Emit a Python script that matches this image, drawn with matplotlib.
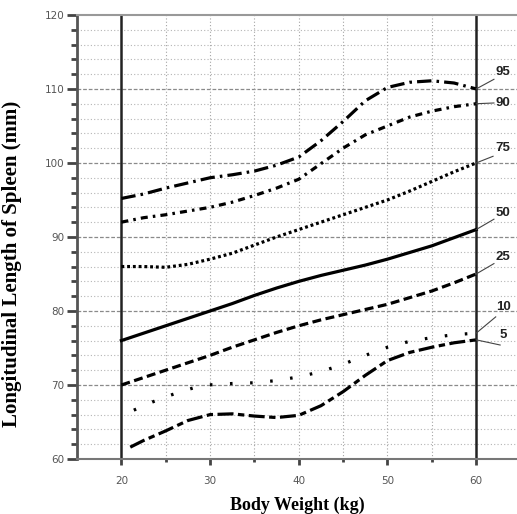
import matplotlib.pyplot as plt
import numpy as np

# body weight (kg) and percentile curves
weight = np.array([20, 22.5, 25, 27.5, 30, 32.5, 35, 37.5, 40, 42.5, 45, 47.5, 50, 52.5, 55, 57.5, 60])
p95 = np.array([95.2, 95.8, 96.6, 97.3, 98.0, 98.4, 98.9, 99.7, 100.8, 103.0, 105.6, 108.4, 110.2, 110.9, 111.1, 110.8, 110.0])
p90 = np.array([92.0, 92.6, 93.0, 93.5, 94.0, 94.7, 95.6, 96.6, 97.8, 99.9, 102.0, 103.8, 105.0, 106.2, 107.0, 107.6, 108.0])
p75 = np.array([86.0, 86.0, 85.9, 86.3, 87.0, 87.8, 88.9, 90.0, 91.0, 92.0, 93.0, 94.0, 95.0, 96.2, 97.5, 98.8, 100.0])
p50 = np.array([76.0, 77.0, 78.0, 79.0, 80.0, 81.0, 82.1, 83.1, 84.0, 84.8, 85.5, 86.2, 87.0, 87.9, 88.8, 89.9, 91.0])
p25 = np.array([70.0, 71.0, 72.0, 73.0, 74.0, 75.1, 76.1, 77.1, 78.0, 78.8, 79.5, 80.2, 80.9, 81.8, 82.7, 83.8, 85.0])

weight10 = np.array([21.4, 23.1, 24.7, 26.5, 28.1, 29.7, 32.5, 35, 37.5, 40, 42.5, 45, 47.5, 50, 52.5, 55, 57.5, 60])
p10 = np.array([66.6, 67.5, 68.3, 69.0, 69.6, 70.0, 70.2, 70.3, 70.6, 71.1, 71.8, 72.8, 74.0, 75.1, 75.9, 76.4, 76.8, 77.0])
weight5 = np.array([21, 22.5, 25, 27.5, 30, 32.5, 35, 37.5, 40, 42.5, 45, 47.5, 50, 52.5, 55, 57.5, 60])
p5 = np.array([61.6, 62.5, 63.8, 65.2, 66.0, 66.1, 65.8, 65.6, 65.9, 67.2, 69.1, 71.3, 73.3, 74.4, 75.1, 75.7, 76.1])

labels = ['95', '90', '75', '50', '25', '10', '5']
end_vals = [110.0, 108.0, 100.0, 91.0, 85.0, 77.0, 76.1]
text_pos = [(62.2, 112.3), (62.2, 108.1), (62.2, 102.0), (62.2, 93.3), (62.2, 87.3), (62.3, 80.5), (62.6, 76.7)]
leader_end = [(62.0, 111.3), (62.0, 108.1), (61.9, 100.9), (62.0, 92.4), (62.0, 86.4), (62.2, 79.2), (62.7, 75.4)]

fig = plt.figure(figsize=(5.17, 5.14), dpi=100)
ax = fig.add_axes([0.149, 0.107, 0.851, 0.864])
ax.set_xlim(15, 64.6)
ax.set_ylim(60, 120)

# grid
for y in range(62, 120, 2):
    if y % 10 == 0:
        ax.axhline(y, color='#8a8a8a', lw=0.9, ls=(0, (3, 1.5)), zorder=1)
    else:
        ax.axhline(y, color='#b5b5b5', lw=0.8, ls=(0, (1, 2)), zorder=1)
for x in [25, 30, 35, 40, 45, 50, 55]:
    ax.axvline(x, color='#a5a5a5', lw=0.8, ls=(0, (1, 2)), zorder=1)
ax.axvline(20, color='#222222', lw=1.8, zorder=2)
ax.axvline(60, color='#222222', lw=1.8, zorder=2)

lw = 2.3
ax.plot(weight, p95, color='black', lw=lw, dashes=(4.5, 1.6, 0.8, 1.6), zorder=3)
ax.plot(weight, p90, color='black', lw=lw, dashes=(2.2, 1.6, 0.8, 1.6), zorder=3)
ax.plot(weight, p75, color='black', lw=lw, dashes=(0.9, 0.9), zorder=3)
ax.plot(weight, p50, color='black', lw=lw, zorder=3)
ax.plot(weight, p25, color='black', lw=lw, dashes=(2.8, 1.4), zorder=3)
ax.plot(weight10, p10, color='black', lw=lw, dashes=(0.8, 5.5), zorder=3)
ax.plot(weight5, p5, color='black', lw=lw, dashes=(5, 1.4, 2, 1.4), zorder=3)

for lab, yv, tp, le in zip(labels, end_vals, text_pos, leader_end):
    ax.plot([60, le[0]], [yv, le[1]], color='#444444', lw=0.8, zorder=3, clip_on=False)
    ax.text(tp[0], tp[1], lab, fontsize=9.5, fontweight='bold', color='#222222',
            family='Liberation Sans', ha='left', va='center', clip_on=False)

# ticks
ax.set_xticks([20, 30, 40, 50, 60])
ax.set_xticks([25, 35, 45, 55], minor=True)
ax.set_yticks(range(60, 121, 10))
ax.set_yticks(range(60, 121, 2), minor=True)
ax.tick_params(axis='y', which='major', length=7, width=2, color='#444444',
               labelsize=7.5, labelcolor='#555555', pad=2)
ax.tick_params(axis='y', which='minor', length=4, width=2, color='#444444')
ax.tick_params(axis='x', which='major', length=4, width=2, color='#444444',
               labelsize=7.5, labelcolor='#555555', pad=8)
ax.tick_params(axis='x', which='minor', length=2, width=2, color='#444444')

ax.spines['left'].set_color('#555555')
ax.spines['left'].set_linewidth(2)
ax.spines['bottom'].set_color('#777777')
ax.spines['bottom'].set_linewidth(1.5)
ax.spines['top'].set_color('#999999')
ax.spines['top'].set_linewidth(1.5)
ax.spines['right'].set_visible(False)

ax.set_xlabel('Body Weight (kg)', fontsize=13, fontweight='bold', family='Liberation Serif', labelpad=8)
ax.set_ylabel('Longitudinal Length of Spleen (mm)', fontsize=15, fontweight='bold', family='Liberation Serif')
ax.yaxis.set_label_coords(-0.125, 0.44)

fig.savefig('out.png', dpi=100)
